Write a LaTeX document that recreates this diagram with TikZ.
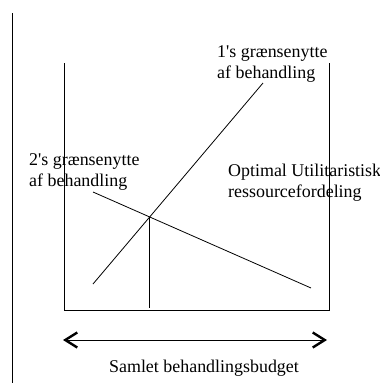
\documentclass[tikz,border=0pt]{standalone}
\usepackage{fontspec}
\setmainfont{Liberation Serif}
\usetikzlibrary{arrows.meta}

\begin{document}
\begin{tikzpicture}[
    x=1bp, y=-1bp,
    lbl/.style={font=\fontsize{18}{20.5}\selectfont, inner sep=0pt,
                align=left, anchor=base west},
    axis/.style={line width=0.9bp},
    curve/.style={line width=0.8bp},
    budget/.style={{Straight Barb[length=12bp,width=15bp,line width=2.4bp]}-{Straight Barb[length=12bp,width=15bp,line width=2.4bp]},
                   line width=0.9bp},
]
\useasboundingbox (0,0) rectangle (380,383);

% Margin rule on the left.
\coordinate (mtop) at (12,13);
\coordinate (mbot) at (12,383);
\draw[axis] (mtop) -- (mbot);

% Open box: two sides and the base.
\coordinate (tl) at (64,63);
\coordinate (bl) at (64,310);
\coordinate (br) at (329,310);
\coordinate (tr) at (329,63);
\draw[axis] (tl) -- (bl) -- (br) -- (tr);

% Marginal utility of the two.
\coordinate (u1a) at (93,284);
\coordinate (u1b) at (263,83);
\coordinate (u2a) at (93,192);
\coordinate (u2b) at (311,288);
\draw[curve] (u1a) -- (u1b);
\draw[curve] (u2a) -- (u2b);

% Optimum and its drop to the base.
\coordinate (opt) at (intersection of u1a--u1b and u2a--u2b);
\coordinate (optb) at (opt |- 0,308);
\draw[curve] (opt) -- (optb);

% Labels (anchored on the baseline of the last line).
\node[lbl] (lab1) at (217,78) {1\textquotesingle s grænsenytte\\af behandling};
\node[lbl] (lab2) at (29,186) {2\textquotesingle s grænsenytte\\af behandling};
\node[lbl] (labopt) at (228,197) {Optimal Utilitaristisk\\ressourcefordeling};

% Budget arrow.
\coordinate (bdl) at (63,340);
\coordinate (bdr) at (327,340);
\draw[budget] (bdl) -- (bdr);
\node[lbl, anchor=base] (labbud) at (204,372) {Samlet behandlingsbudget};
\end{tikzpicture}
\end{document}
